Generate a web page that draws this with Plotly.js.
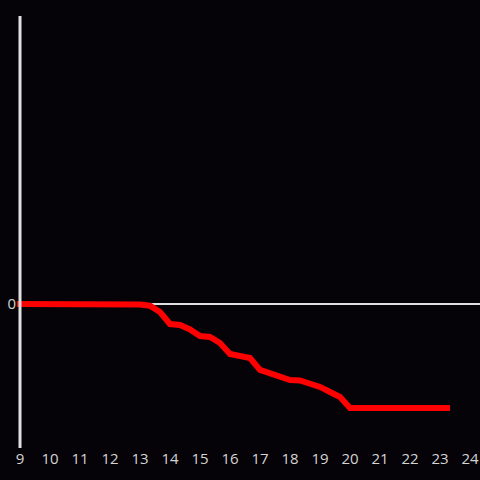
<!DOCTYPE html>
<html>
<head>
<meta charset="utf-8">
<script src="https://cdn.plot.ly/plotly-3.0.1.min.js"></script>
<style>html,body{margin:0;padding:0;background:#060308;}</style>
</head>
<body>
<div id="chart" style="width:480px;height:480px;"></div>
<script>
// Time of day (hours) and cumulative value
const hours = [8.9, 10, 11, 12, 12.667, 13, 13.333, 13.667, 14, 14.333, 14.667, 15, 15.333, 15.667, 16, 16.333, 16.667, 17, 17.333, 17.667, 18, 18.333, 18.667, 19, 19.333, 19.667, 20, 21, 22, 23, 23.333];
const values = [0, 0, 0, 0, 0, -0.004, -0.012, -0.056, -0.139, -0.146, -0.177, -0.222, -0.229, -0.271, -0.347, -0.365, -0.375, -0.458, -0.479, -0.507, -0.528, -0.531, -0.552, -0.576, -0.611, -0.646, -0.722, -0.722, -0.722, -0.722, -0.722];
const xTicks = [9, 10, 11, 12, 13, 14, 15, 16, 17, 18, 19, 20, 21, 22, 23, 24];
const yTicks = [0];
const yTickLabels = ['0'];

const trace = {
  x: hours,
  y: values,
  type: 'scatter',
  mode: 'lines',
  line: {color: '#ff0000', width: 6},
  hoverinfo: 'skip'
};

const layout = {
  width: 480,
  height: 480,
  margin: {l: 17, r: 0, t: 16, b: 32, pad: 0},
  paper_bgcolor: '#060308',
  plot_bgcolor: '#060308',
  showlegend: false,
  font: {family: '"Open Sans", sans-serif', size: 15, color: '#d4d4d4'},
  xaxis: {
    range: [8.9, 24.333],
    tickvals: xTicks,
    ticktext: xTicks.map(String),
    showgrid: false,
    zeroline: false,
    showline: false,
    ticks: '',
    tickfont: {size: 15, color: '#d4d4d4'}
  },
  yaxis: {
    range: [-1, 2],
    tickvals: yTicks,
    ticktext: yTickLabels,
    showgrid: false,
    zeroline: true,
    zerolinecolor: '#e0e0e0',
    zerolinewidth: 2,
    showline: false,
    ticks: '',
    tickfont: {size: 15, color: '#d4d4d4'}
  },
  shapes: [{
    type: 'line',
    xref: 'x', yref: 'paper',
    x0: 9, x1: 9, y0: 0, y1: 1,
    line: {color: '#e0e0e0', width: 3},
    layer: 'above'
  }]
};

Plotly.newPlot('chart', [trace], layout, {displayModeBar: false, staticPlot: true});
</script>
</body>
</html>
